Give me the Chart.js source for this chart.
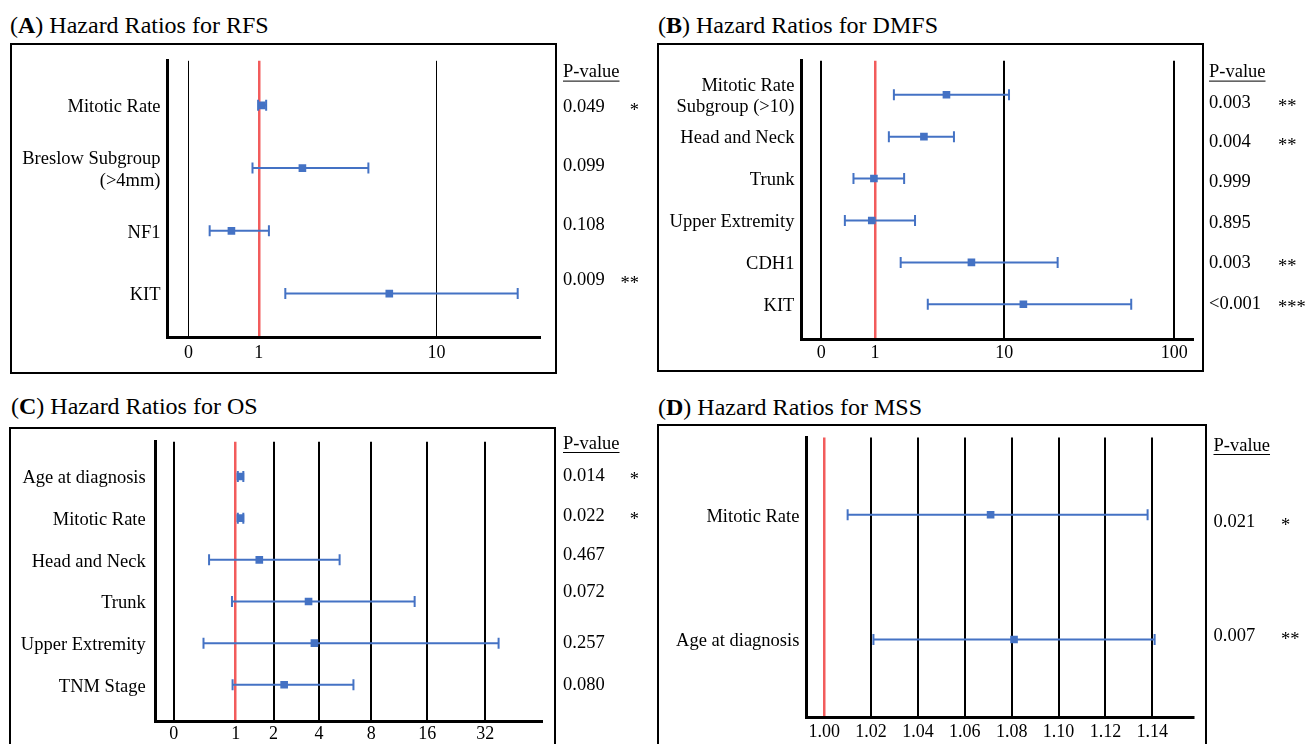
<!DOCTYPE html>
<html><head><meta charset="utf-8"><title>Hazard Ratios</title>
<script src="https://cdn.jsdelivr.net/npm/chart.js@4.4.1/dist/chart.umd.min.js"></script>
<style>
html,body{margin:0;padding:0;background:#fff}
body{position:relative;width:1311px;height:744px;overflow:hidden;font-family:"Liberation Serif","Times New Roman",serif;color:#000}
.title{position:absolute;font-size:24px;line-height:24px;white-space:nowrap}
.box{position:absolute;border:2px solid #000;box-sizing:border-box}
canvas{position:absolute}
</style></head><body>
<div class="title" style="left:10px;top:13px">(<b>A</b>) Hazard Ratios for RFS</div>
<div class="title" style="left:658px;top:13px">(<b>B</b>) Hazard Ratios for DMFS</div>
<div class="title" style="left:11px;top:394px">(<b>C</b>) Hazard Ratios for OS</div>
<div class="title" style="left:658px;top:395px">(<b>D</b>) Hazard Ratios for MSS</div>
<div class="box" style="left:10px;top:43px;width:547px;height:331px"></div>
<div class="box" style="left:657px;top:43px;width:547px;height:329px"></div>
<div class="box" style="left:9px;top:427px;width:547px;height:400px"></div>
<div class="box" style="left:657px;top:424px;width:550px;height:400px"></div>
<canvas id="cA" width="655" height="380" style="left:0;top:0"></canvas>
<canvas id="cB" width="656" height="380" style="left:655px;top:0"></canvas>
<canvas id="cC" width="655" height="359" style="left:0;top:385px"></canvas>
<canvas id="cD" width="656" height="359" style="left:655px;top:385px"></canvas>
<script>
// ---------------- DATA ----------------
// (A) RFS
const rfsCategories = ['Mitotic Rate', ['Breslow Subgroup', '(>4mm)'], 'NF1', 'KIT'];
const rfsHR   = [1.04, 1.76, 0.61, 5.43];
const rfsLow  = [0.99, 0.91, 0.30, 1.41];
const rfsHigh = [1.10, 4.14, 1.14, 28.7];
const rfsP     = ['0.049', '0.099', '0.108', '0.009'];
const rfsStars = ['*', '', '', '**'];
const rfsTicks = [0, 1, 10];

// (B) DMFS
const dmfsCategories = [['Mitotic Rate', 'Subgroup (>10)'], 'Head and Neck', 'Trunk', 'Upper Extremity', 'CDH1', 'KIT'];
const dmfsHR   = [3.57, 2.39, 0.98, 0.94, 5.57, 12.95];
const dmfsLow  = [1.40, 1.28, 0.60, 0.44, 1.58, 2.56];
const dmfsHigh = [10.66, 4.08, 1.68, 2.04, 20.6, 55.8];
const dmfsP     = ['0.003', '0.004', '0.999', '0.895', '0.003', '<0.001'];
const dmfsStars = ['**', '**', '', '', '**', '***'];
const dmfsTicks = [0, 1, 10, 100];

// (C) OS
const osCategories = ['Age at diagnosis', 'Mitotic Rate', 'Head and Neck', 'Trunk', 'Upper Extremity', 'TNM Stage'];
const osHR   = [1.09, 1.09, 1.54, 3.41, 3.73, 2.35];
const osLow  = [1.04, 1.04, 0.57, 0.94, 0.48, 0.95];
const osHigh = [1.15, 1.15, 5.26, 13.7, 37.5, 6.32];
const osP     = ['0.014', '0.022', '0.467', '0.072', '0.257', '0.080'];
const osStars = ['*', '*', '', '', '', ''];
const osTicks = [0, 1, 2, 4, 8, 16, 32];

// (D) MSS
const mssCategories = ['Mitotic Rate', 'Age at diagnosis'];
const mssHR   = [1.071, 1.081];
const mssLow  = [1.010, 1.021];
const mssHigh = [1.138, 1.141];
const mssP     = ['0.021', '0.007'];
const mssStars = ['*', '**'];
const mssTicks = [1.00, 1.02, 1.04, 1.06, 1.08, 1.10, 1.12, 1.14];

// ---------------- STYLE / LAYOUT ----------------
const BLUE = '#4472C4', RED = '#F25C5C';
const FONT = '"Liberation Serif", "Times New Roman", serif';
const TEXT_SIZE = 18.5, TICK_SIZE = 18;

// The source axes are drawn with uneven spacing between tick values;
// each tick gets a fractional position along the axis, values in between are
// placed on a log scale (linear between 0 and the first positive tick).
function piecewiseAxis(ticks, frac) {
  return v => {
    let i = 0;
    while (i < ticks.length - 2 && v > ticks[i + 1]) i++;
    const a = ticks[i], b = ticks[i + 1];
    const t = a <= 0 ? (v - a) / (b - a) : Math.log(v / a) / Math.log(b / a);
    return frac[i] + t * (frac[i + 1] - frac[i]);
  };
}

const panels = [
  { id: 'cA', categories: rfsCategories, hr: rfsHR, low: rfsLow, high: rfsHigh, p: rfsP, stars: rfsStars,
    ticks: rfsTicks, labels: rfsTicks.map(String), frac: [0.0565, 0.2446, 0.7203],
    canvas: {left: 0, top: 0, width: 655, height: 380}, plot: {l: 167.5, t: 60.8, r: 540.8, b: 337.5},
    yRange: [-0.71, 3.70], gridWidth: 1, labelPad: 7, tickPad: 5,
    pX: 563, starX: 639, starAlign: 'right', pHeaderY: 72.6, pNudge: [2, -2, -6, -13] },
  { id: 'cB', categories: dmfsCategories, hr: dmfsHR, low: dmfsLow, high: dmfsHigh, p: dmfsP, stars: dmfsStars,
    ticks: dmfsTicks, labels: dmfsTicks.map(String), frac: [0.0505, 0.1878, 0.5177, 0.9515],
    canvas: {left: 655, top: 0, width: 656, height: 380}, plot: {l: 801.4, t: 60.8, r: 1193.3, b: 339.3},
    yRange: [-0.809, 5.835], gridWidth: 2, labelPad: 7, tickPad: 3,
    pX: 1209, starX: 1278, starAlign: 'left', pHeaderY: 72.6, pNudge: [8, 6, 4, 3, 1, 0] },
  { id: 'cC', categories: osCategories, hr: osHR, low: osLow, high: osHigh, p: osP, stars: osStars,
    ticks: osTicks, labels: osTicks.map(String), frac: [0.0468, 0.2070, 0.3051, 0.4226, 0.5577, 0.7026, 0.8530],
    canvas: {left: 0, top: 385, width: 655, height: 359}, plot: {l: 155.7, t: 441.7, r: 542.1, b: 721},
    yRange: [-0.836, 5.869], gridWidth: 2, labelPad: 10, tickPad: 2,
    pX: 563, starX: 639, starAlign: 'right', pHeaderY: 444, pNudge: [0, -2, -5, -9, 0, 0] },
  { id: 'cD', categories: mssCategories, hr: mssHR, low: mssLow, high: mssHigh, p: mssP, stars: mssStars,
    ticks: mssTicks, labels: mssTicks.map(v => v.toFixed(2)), linear: {min: 0.9924, max: 1.1575},
    canvas: {left: 655, top: 385, width: 656, height: 359}, plot: {l: 806.4, t: 437.6, r: 1193.3, b: 717.6},
    yRange: [-0.619, 1.626], gridWidth: 2, labelPad: 7, tickPad: 4,
    pX: 1213.5, starX: 1281, starAlign: 'left', pHeaderY: 446, pNudge: [7, -3] }
];

function pvaluePlugin(P) {
  return {
    id: 'pvalues',
    afterDraw(chart) {
      const ctx = chart.ctx, ys = chart.scales.y;
      ctx.save();
      ctx.fillStyle = '#000';
      ctx.font = TEXT_SIZE + 'px ' + FONT;
      ctx.textBaseline = 'middle';
      ctx.textAlign = 'left';
      const hx = P.pX - P.canvas.left, hy = P.pHeaderY - P.canvas.top;
      ctx.fillText('P-value', hx, hy);
      const w = ctx.measureText('P-value').width;
      ctx.fillRect(hx, hy + 8, w, 1);
      P.p.forEach((t, i) => {
        const yy = ys.getPixelForValue(i) + P.pNudge[i];
        ctx.textAlign = 'left';
        ctx.fillText(t, hx, yy);
        if (P.stars[i]) {
          ctx.textAlign = P.starAlign;
          ctx.fillText(P.stars[i], P.starX - P.canvas.left, yy + 4);
        }
      });
      ctx.restore();
    }
  };
}

panels.forEach(P => {
  const toX = P.linear ? (v => v) : piecewiseAxis(P.ticks, P.frac);
  const tickVals = P.linear ? P.ticks : P.frac;
  const refIndex = P.ticks.indexOf(1);
  const datasets = [];
  P.categories.forEach((c, i) => {
    datasets.push({
      data: [{x: toX(P.low[i]), y: i}, {x: toX(P.high[i]), y: i}],
      showLine: true, borderColor: BLUE, borderWidth: 2, borderCapStyle: 'butt',
      pointStyle: 'line', pointRotation: 90, pointRadius: 5.5, pointHoverRadius: 5.5,
      pointBorderWidth: 2, pointBorderColor: BLUE, pointBackgroundColor: BLUE
    });
  });
  datasets.push({
    data: P.hr.map((v, i) => ({x: toX(v), y: i})),
    showLine: false, pointStyle: 'rect', pointRadius: 5.4, pointHoverRadius: 5.4,
    pointBackgroundColor: BLUE, pointBorderWidth: 0, pointBorderColor: BLUE
  });
  const C = P.canvas, L = P.plot;
  new Chart(document.getElementById(P.id), {
    type: 'scatter',
    data: {datasets},
    plugins: [pvaluePlugin(P)],
    options: {
      responsive: false, animation: false, devicePixelRatio: 1, events: [],
      layout: {padding: {left: 0, top: L.t - C.top, right: C.left + C.width - L.r, bottom: 0}},
      plugins: {legend: {display: false}, tooltip: {enabled: false}},
      scales: {
        x: {
          type: 'linear', bounds: 'data',
          min: P.linear ? P.linear.min : 0, max: P.linear ? P.linear.max : 1,
          afterBuildTicks: s => { s.ticks = tickVals.map(v => ({value: v})); },
          afterFit: s => { s.height = C.top + C.height - L.b; },
          ticks: {autoSkip: false, maxRotation: 0, minRotation: 0, padding: P.tickPad, color: '#000',
                  font: {family: FONT, size: TICK_SIZE}, callback: (v, i) => P.labels[i]},
          grid: {drawTicks: false,
                 color: ctx => ctx.index === refIndex ? RED : '#000',
                 lineWidth: ctx => ctx.index === refIndex ? 2.5 : P.gridWidth},
          border: {display: true, color: '#000', width: 3}
        },
        y: {
          type: 'linear', bounds: 'data', reverse: true, min: P.yRange[0], max: P.yRange[1],
          afterBuildTicks: s => { s.ticks = P.categories.map((c, i) => ({value: i})); },
          afterFit: s => { s.width = L.l - C.left; },
          ticks: {autoSkip: false, padding: P.labelPad, color: '#000', labelOffset: 2,
                  font: {family: FONT, size: TEXT_SIZE, lineHeight: 1.18}, callback: v => P.categories[v]},
          grid: {display: false, drawTicks: false},
          border: {display: true, color: '#000', width: 3}
        }
      }
    }
  });
});
</script>
</body></html>
